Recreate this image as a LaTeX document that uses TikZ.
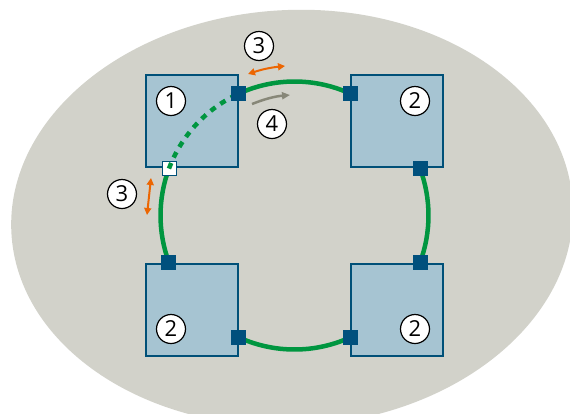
\documentclass[tikz,border=0pt]{standalone}
\usepackage{fontspec}
\setmainfont{Open Sans}
\usetikzlibrary{arrows.meta,calc}
\definecolor{bg}{RGB}{210,210,202}
\definecolor{boxfill}{RGB}{166,196,210}
\definecolor{boxline}{RGB}{0,80,120}
\definecolor{portblue}{RGB}{0,80,125}
\definecolor{ringgreen}{RGB}{0,150,64}
\definecolor{arrorange}{RGB}{236,102,2}
\definecolor{arrgray}{RGB}{135,135,120}
\begin{document}
\begin{tikzpicture}[x=1pt,y=-1pt,
  device/.style={draw=boxline, line width=2pt, fill=boxfill, minimum size=92pt, inner sep=0pt},
  port/.style={fill=portblue, minimum size=15pt, inner sep=0pt},
  wport/.style={fill=white, draw=boxline, line width=0.8pt, minimum size=14pt, inner sep=0pt},
  ring/.style={draw=ringgreen, line width=4.5pt},
  ringdash/.style={draw=ringgreen, line width=4.5pt, dash pattern=on 6pt off 6pt},
  num/.style={circle, draw=black, line width=1.2pt, fill=white, minimum size=29pt, inner sep=0pt, font=\fontsize{22}{22}\selectfont},
  oarrow/.style={draw=arrorange, line width=2pt, {Triangle[length=7pt,width=7pt]}-{Triangle[length=7pt,width=7pt]}},
  garrow/.style={draw=arrgray, line width=2.5pt, -{Triangle[length=8pt,width=7pt]}}
]
\useasboundingbox (0,0) rectangle (570,413);
\begin{scope}
  \clip (0,0) rectangle (570,413);
  \fill[bg, rotate around={3:(292,218)}] (292,218) ellipse [x radius=281, y radius=208];
\end{scope}

% devices
\node[device] (d1) at (192,121) {};
\node[device] (d2) at (397,121) {};
\node[device] (d3) at (192,310) {};
\node[device] (d4) at (397,310) {};

% ring centre
\coordinate (rc) at (294.5,215.5);
\coordinate (pAc) at ($(rc)+(-114.5:134)$);
\coordinate (pBc) at ($(rc)+(-65.5:134)$);
\coordinate (pCc) at ($(rc)+(-20.5:134)$);
\coordinate (pDc) at ($(rc)+(20.5:134)$);
\coordinate (pEc) at ($(rc)+(65.5:134)$);
\coordinate (pFc) at ($(rc)+(114.5:134)$);
\coordinate (pGc) at ($(rc)+(159.5:134)$);
\coordinate (pWc) at ($(rc)+(200.5:134)$);

% solid ring segments
\draw[ring] (pAc) arc[start angle=-114.5, end angle=-65.5, radius=134];
\draw[ring] (pCc) arc[start angle=-20.5, end angle=20.5, radius=134];
\draw[ring] (pEc) arc[start angle=65.5, end angle=114.5, radius=134];
\draw[ring] (pGc) arc[start angle=159.5, end angle=200.5, radius=134];

% white port and dashed segment
\node[wport] (pW) at (pWc) {};
\draw[ringdash] (pW.center) arc[start angle=200.5, end angle=245.5, radius=134];

% ports
\node[port] (pA) at (pAc) {};
\node[port] (pB) at (pBc) {};
\node[port] (pC) at (pCc) {};
\node[port] (pD) at (pDc) {};
\node[port] (pE) at (pEc) {};
\node[port] (pF) at (pFc) {};
\node[port] (pG) at (pGc) {};

% number labels
\node[num] (n1) at (171,101) {1};
\node[num] (n2a) at (415,101) {2};
\node[num] (n2b) at (171,329) {2};
\node[num] (n2c) at (415,329) {2};
\node[num] (n3a) at (259,46) {3};
\node[num] (n4) at (272,124) {4};
\node[num] (n3b) at (122,194) {3};

% arrows
\coordinate (o1a) at (248,74);
\coordinate (o1b) at (285,66);
\draw[oarrow] (o1a) to[bend left=6] (o1b);
\coordinate (o2a) at (151,178);
\coordinate (o2b) at (147,215);
\draw[oarrow] (o2a) -- (o2b);
\coordinate (g1a) at (252,104);
\coordinate (g1b) at (290,95);
\draw[garrow] (g1a) to[bend left=8] (g1b);
\end{tikzpicture}
\end{document}
